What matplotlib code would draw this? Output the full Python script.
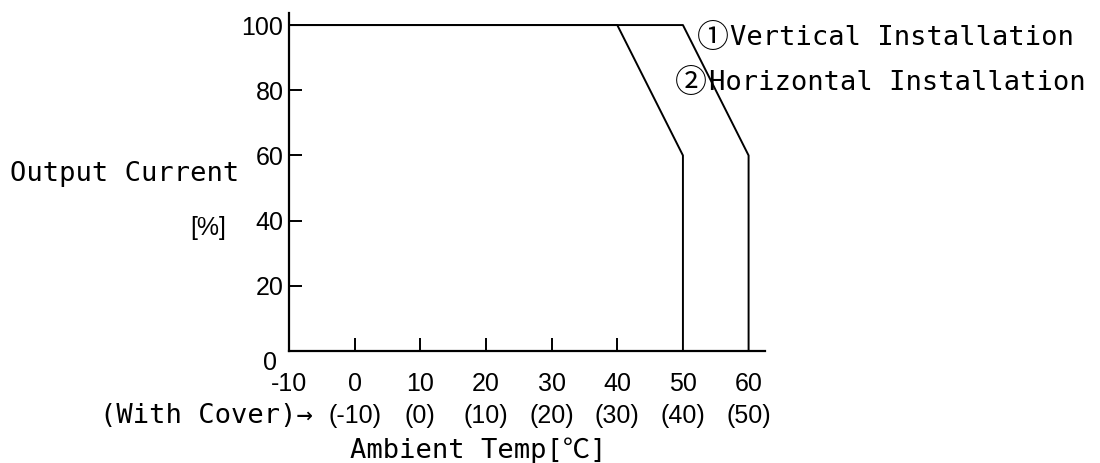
import matplotlib
matplotlib.use("Agg")
import matplotlib.pyplot as plt

# derating curves (ambient temp -> output current %)
vert_temp = [-10, 50, 60, 60]
vert_load = [100, 100, 60, 0]
horiz_temp = [-10, 40, 50, 50]
horiz_load = [100, 100, 60, 0]

x_ticks = [-10, 0, 10, 20, 30, 40, 50, 60]
cover_ticks = [0, 10, 20, 30, 40, 50, 60]
cover_labels = ["(-10)", "(0)", "(10)", "(20)", "(30)", "(40)", "(50)"]
y_ticks = [20, 40, 60, 80, 100]
x_marks = [0, 10, 20, 30, 40]
y_marks = [20, 40, 60, 80]

mono = ["DejaVu Sans Mono", "Noto Sans CJK JP"]
sans = ["Liberation Sans", "DejaVu Sans"]
cjk = ["Noto Sans CJK JP", "DejaVu Sans"]

fig = plt.figure(figsize=(11, 4.63), dpi=100)
ax = fig.add_axes([289 / 1100, 112 / 463, 476 / 1100, 338 / 463])

ax.plot(vert_temp, vert_load, color="black", lw=1.4)
ax.plot(horiz_temp, horiz_load, color="black", lw=1.4)

ax.set_xlim(-10, 62.5)
ax.set_ylim(0, 103.7)
for s in ["top", "right"]:
    ax.spines[s].set_visible(False)
for s in ["left", "bottom"]:
    ax.spines[s].set_linewidth(1.6)

ax.set_xticks(x_ticks)
ax.set_xticklabels([str(t) for t in x_ticks], family=sans, fontsize=18)
ax.set_yticks(y_ticks)
ax.set_yticklabels([str(t) for t in y_ticks], family=sans, fontsize=18)
ax.tick_params(axis="x", which="major", length=0, pad=15)
ax.tick_params(axis="y", which="major", length=0, pad=4)
ax.xaxis.remove_overlapping_locs = False
ax.yaxis.remove_overlapping_locs = False
ax.set_xticks(x_marks, minor=True)
ax.set_yticks(y_marks, minor=True)
ax.tick_params(which="minor", direction="in", length=9.4, width=1.4, color="black")

# "0" on the y axis sits a bit below the corner
ax.annotate("0", xy=(-10, 0), xytext=(-12, -12), textcoords="offset pixels",
            ha="right", va="center", family=sans, fontsize=18)

# second row of temps (with cover)
for t, lab in zip(cover_ticks, cover_labels):
    ax.annotate(lab, xy=(t, 0), xycoords=("data", "axes fraction"),
                xytext=(0, -65), textcoords="offset pixels",
                ha="center", va="center", family=sans, fontsize=18)

fig.text(313 / 1100, 1 - 416 / 463, "(With Cover)\u2192", ha="right", va="center",
         family=mono, fontsize=19.5)
fig.text(350 / 1100, 1 - 451 / 463, "Ambient Temp[\u2103]", ha="left", va="center",
         family=mono, fontsize=19.5)
fig.text(10 / 1100, 1 - 174 / 463, "Output Current", ha="left", va="center",
         family=mono, fontsize=19.5)
fig.text(208 / 1100, 1 - 228 / 463, "[%]", ha="center", va="center",
         family=sans, fontsize=18)

fig.text(697 / 1100, 1 - 38 / 463, "\u2460", ha="left", va="center",
         family=cjk, fontsize=23)
fig.text(730 / 1100, 1 - 38 / 463, "Vertical Installation", ha="left", va="center",
         family=mono, fontsize=19.5)
fig.text(675 / 1100, 1 - 83 / 463, "\u2461", ha="left", va="center",
         family=cjk, fontsize=23)
fig.text(709 / 1100, 1 - 83 / 463, "Horizontal Installation", ha="left", va="center",
         family=mono, fontsize=19.5)

fig.savefig("out.png", dpi=100)
